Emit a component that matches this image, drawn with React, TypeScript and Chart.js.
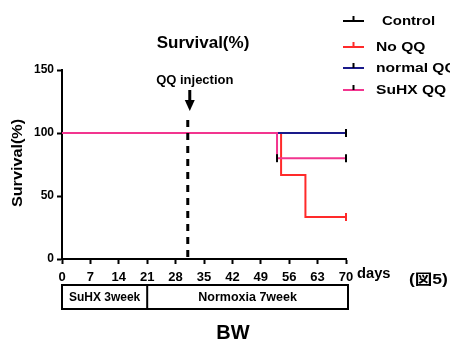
import React, { useEffect, useRef } from "react";
import { Chart, registerables } from "chart.js";

Chart.register(...registerables);

const seriesLabels = ["Control", "No QQ", "normal QQ", "SuHX QQ"];
const seriesColors = ["#000000", "#ff2a2a", "#1a1a8a", "#f2358f"];
const controlDays = [0, 70];
const controlSurvival = [100, 100];
const noQQDays = [0, 54, 60, 70];
const noQQSurvival = [100, 66.7, 33.3, 33.3];
const normalQQDays = [0, 70];
const normalQQSurvival = [100, 100];
const suhxQQDays = [0, 53, 70];
const suhxQQSurvival = [100, 80, 80];
const censorDays = [70, 70, 53, 70];
const censorSurvival = [100, 80, 80, 33.3];
const censorColors = ["#000000", "#000000", "#000000", "#ff2a2a"];
const injectionDay = 31;
const phaseLabels = ["SuHX 3week", "Normoxia 7week"];
const phaseBounds = [0, 21, 70];
const yTicks = [0, 50, 100, 150];
const xTickStep = 7;

const FONT = "'Liberation Sans', Arial, sans-serif";

const pts = (xs: number[], ys: number[]) => xs.map((x, i) => ({ x, y: ys[i] }));

function wideText(ctx: any, text: string, x: number, y: number, sx: number) {
  ctx.save();
  ctx.translate(x, y);
  ctx.scale(sx, 1);
  ctx.fillText(text, 0, 0);
  ctx.restore();
}

const overlay = {
  id: "overlay",
  afterDraw(chart: any) {
    const { ctx } = chart;
    const xs = chart.scales.x;
    const ys = chart.scales.y;
    ctx.save();
    ctx.fillStyle = "#000";
    ctx.strokeStyle = "#000";
    // title
    ctx.font = `bold 17px ${FONT}`;
    ctx.textAlign = "center";
    ctx.textBaseline = "middle";
    ctx.fillText("Survival(%)", 203, 43);
    // y title
    ctx.save();
    ctx.translate(18, 163);
    ctx.rotate(-Math.PI / 2);
    ctx.scale(1.08, 1);
    ctx.font = `bold 15px ${FONT}`;
    ctx.fillText("Survival(%)", 0, 0);
    ctx.restore();
    // injection
    const ix = xs.getPixelForValue(injectionDay);
    ctx.font = `bold 13px ${FONT}`;
    ctx.fillText("QQ injection", ix + 7, 80);
    ctx.lineWidth = 3;
    ctx.beginPath();
    ctx.moveTo(ix + 2, 90);
    ctx.lineTo(ix + 2, 102);
    ctx.stroke();
    ctx.beginPath();
    ctx.moveTo(ix - 3, 100);
    ctx.lineTo(ix + 7, 100);
    ctx.lineTo(ix + 2, 111);
    ctx.closePath();
    ctx.fill();
    ctx.setLineDash([7, 6]);
    ctx.beginPath();
    ctx.moveTo(ix, 120);
    ctx.lineTo(ix, ys.getPixelForValue(0));
    ctx.stroke();
    ctx.setLineDash([]);
    // days & fig
    ctx.textAlign = "left";
    ctx.font = `bold 14px ${FONT}`;
    wideText(ctx, "days", 357, 274, 1.05);
    ctx.font = `bold 14px ${FONT}, 'Noto Sans CJK JP'`;
    wideText(ctx, "(図5)", 409, 280, 1.25);
    // phase box
    const top = 285, bot = 309;
    ctx.lineWidth = 2;
    const x0 = xs.getPixelForValue(phaseBounds[0]);
    const x2 = xs.getPixelForValue(phaseBounds[2]) + 2;
    ctx.strokeRect(x0, top, x2 - x0, bot - top);
    const x1 = xs.getPixelForValue(phaseBounds[1]);
    ctx.beginPath();
    ctx.moveTo(x1, top);
    ctx.lineTo(x1, bot);
    ctx.stroke();
    ctx.textAlign = "center";
    ctx.font = `bold 12px ${FONT}`;
    ctx.fillText(phaseLabels[0], (x0 + x1) / 2, 298);
    ctx.font = `bold 12.5px ${FONT}`;
    ctx.fillText(phaseLabels[1], (x1 + x2) / 2, 298);
    ctx.font = `bold 20px ${FONT}`;
    ctx.fillText("BW", 233, 333);
    // legend
    const rows = [21, 47, 68, 90];
    ctx.textAlign = "left";
    ctx.font = `bold 13px ${FONT}`;
    seriesLabels.forEach((lab, i) => {
      const y = rows[i];
      ctx.strokeStyle = seriesColors[i];
      ctx.lineWidth = 2;
      ctx.beginPath();
      ctx.moveTo(343, y);
      ctx.lineTo(364, y);
      ctx.stroke();
      ctx.strokeStyle = i === 1 ? seriesColors[1] : "#000";
      ctx.beginPath();
      ctx.moveTo(353.5, y);
      ctx.lineTo(353.5, y - 5);
      ctx.stroke();
      ctx.fillStyle = "#000";
      wideText(ctx, lab, i === 0 ? 382 : 376, y, i === 0 ? 1.15 : 1.2);
    });
    ctx.restore();
  },
};

export default function App() {
  const ref = useRef<HTMLCanvasElement>(null);
  useEffect(() => {
    const common = { stepped: true, borderWidth: 2, pointRadius: 0, fill: false, clip: false as any };
    const chart = new Chart(ref.current!, {
      type: "line",
      data: {
        datasets: [
          { ...common, label: seriesLabels[0], data: pts(controlDays, controlSurvival), borderColor: seriesColors[0], order: 4 },
          { ...common, label: seriesLabels[1], data: pts(noQQDays, noQQSurvival), borderColor: seriesColors[1], order: 3 },
          { ...common, label: seriesLabels[2], data: pts(normalQQDays, normalQQSurvival), borderColor: seriesColors[2], order: 2 },
          { ...common, label: seriesLabels[3], data: pts(suhxQQDays, suhxQQSurvival), borderColor: seriesColors[3], order: 1 },
          {
            type: "scatter" as any,
            label: "censor",
            data: pts(censorDays, censorSurvival),
            showLine: false,
            pointStyle: "line",
            rotation: 90,
            pointRadius: 4,
            pointBorderWidth: 2,
            pointBorderColor: censorColors,
            pointBackgroundColor: censorColors,
            order: 0,
            clip: false as any,
          } as any,
        ],
      },
      options: {
        animation: false,
        responsive: true,
        maintainAspectRatio: false,
        layout: { padding: { left: 0, top: 70, right: 104, bottom: 0 } },
        plugins: { legend: { display: false }, tooltip: { enabled: false }, title: { display: false } },
        scales: {
          x: {
            type: "linear",
            min: 0,
            max: 70,
            ticks: { stepSize: xTickStep, color: "#000", font: { family: FONT, weight: "bold", size: 13 }, padding: 6, maxRotation: 0, autoSkip: false },
            grid: { drawOnChartArea: false, drawTicks: true, tickLength: 5, tickColor: "#000", tickWidth: 2 },
            border: { color: "#000", width: 2 },
            afterFit: (s: any) => { s.height = 84; },
          },
          y: {
            min: 0,
            max: 150,
            afterBuildTicks: (s: any) => { s.ticks = yTicks.map((v) => ({ value: v })); },
            ticks: { color: "#000", font: { family: FONT, weight: "bold", size: 12 }, padding: 3 },
            grid: { drawOnChartArea: false, drawTicks: true, tickLength: 5, tickColor: "#000", tickWidth: 2 },
            border: { color: "#000", width: 2 },
            afterFit: (s: any) => { s.width = 62; },
          },
        },
      },
      plugins: [overlay],
    });
    return () => chart.destroy();
  }, []);
  return (
    <div style={{ position: "absolute", left: 0, top: 0, width: 450, height: 343, background: "#fff" }}>
      <canvas ref={ref} />
    </div>
  );
}
